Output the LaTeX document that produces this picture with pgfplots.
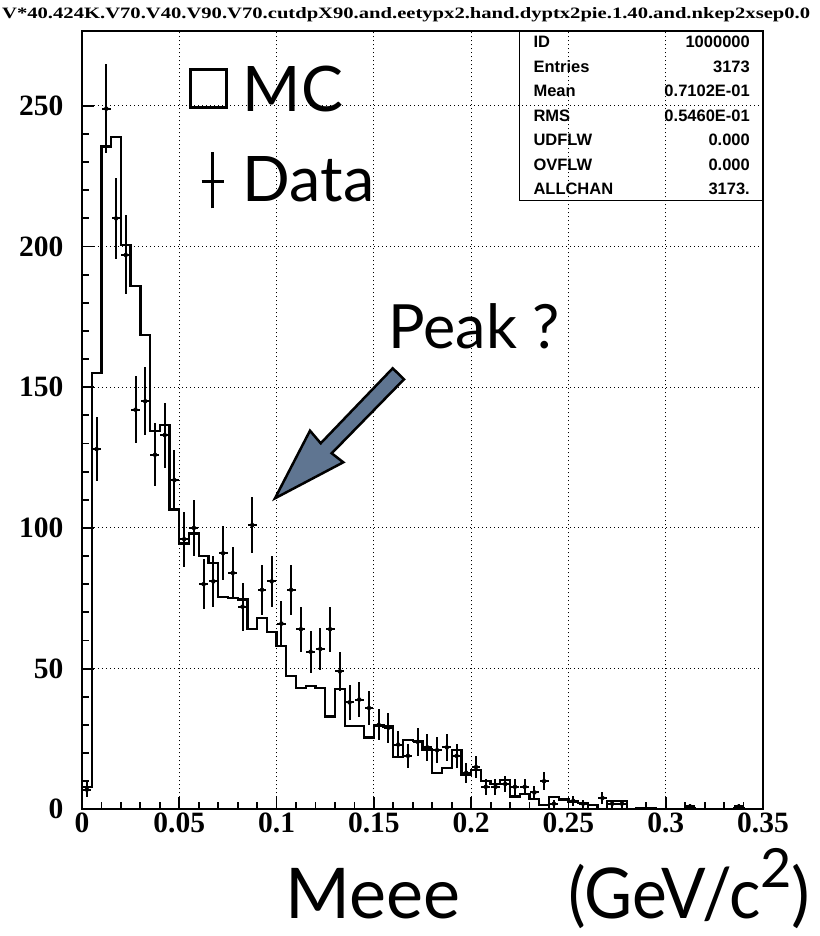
\documentclass[border=0pt]{standalone}
\usepackage{fontspec}
\setmainfont{Liberation Serif}
\newfontfamily\gill{Lato}
\newfontfamily\helv{Liberation Sans}
\usepackage{pgfplots}
\pgfplotsset{compat=1.18}
\usepackage{pgfplotstable}
\definecolor{arrowblue}{RGB}{95,117,145}

\pgfplotstableread{
x y ey
0.0025 7 2.65
0.0075 128 11.31
0.0125 249 15.78
0.0175 210 14.49
0.0225 197 14.04
0.0275 142 11.92
0.0325 145 12.04
0.0375 126 11.22
0.0425 133 11.53
0.0475 117 10.82
0.0525 96 9.80
0.0575 100 10.00
0.0625 80 8.94
0.0675 81 9.00
0.0725 91 9.54
0.0775 84 9.17
0.0825 72 8.49
0.0875 101 10.05
0.0925 78 8.83
0.0975 81 9.00
0.1025 66 8.12
0.1075 78 8.83
0.1125 64 8.00
0.1175 56 7.48
0.1225 57 7.55
0.1275 64 8.00
0.1325 49 7.00
0.1375 38 6.16
0.1425 39 6.24
0.1475 36 6.00
0.1525 30 5.48
0.1575 29 5.39
0.1625 23 4.80
0.1675 19 4.36
0.1725 24 4.90
0.1775 22 4.69
0.1825 21 4.58
0.1875 22 4.69
0.1925 19 4.36
0.1975 13 3.61
0.2025 15 3.87
0.2075 8 2.83
0.2125 8 2.83
0.2175 9 3.00
0.2225 8 2.83
0.2275 8 2.83
0.2325 6 2.45
0.2375 10 3.16
0.2425 2 1.41
0.2525 3 1.73
0.2575 2 1.41
0.2675 4 2.00
0.2725 2 1.41
0.2775 2 1.41
0.3125 1 1.00
0.3375 1 1.00
}\datatable

\pgfplotstableread{
x y
0.000 8
0.005 155
0.010 235.5
0.015 239
0.020 200.5
0.025 186
0.030 168.5
0.035 134.5
0.040 136.5
0.045 106.5
0.050 94.5
0.055 98
0.060 90
0.065 87.5
0.070 75.5
0.075 75.2
0.080 74.6
0.085 64
0.090 68
0.095 63
0.100 58
0.105 47.4
0.110 43.2
0.115 43.8
0.120 43.2
0.125 33
0.130 42.8
0.135 29.7
0.140 29.7
0.145 25.5
0.150 29.8
0.155 29.4
0.160 18.6
0.165 24.6
0.170 24.2
0.175 21.2
0.180 12.8
0.185 14.6
0.190 21
0.195 12.2
0.200 14
0.205 10
0.210 9
0.215 10.5
0.220 4.5
0.225 5.4
0.230 3.6
0.235 1.6
0.240 4.3
0.245 3.5
0.250 2.8
0.255 2.2
0.260 1.5
0.265 0
0.270 2.9
0.275 2.9
0.280 0
0.285 0.4
0.290 0.4
0.295 0
0.300 0
0.305 0
0.310 0.5
0.315 0
0.320 0
0.325 0
0.330 0
0.335 0.5
0.340 0
0.345 0
0.350 0
}\mctable

\begin{document}
\begin{tikzpicture}
\path[use as bounding box] (-82pt,-126.7pt) rectangle (737pt,809.3pt);
\begin{axis}[
  scale only axis, width=681pt, height=778.3pt,
  xmin=0, xmax=0.35, ymin=0, ymax=276.6,
  axis line style={line width=2pt},
  tick align=inside, xtick pos=left, ytick pos=left,
  major tick length=12pt, minor tick length=7pt,
  tick style={line width=1.8pt, black},
  minor x tick num=4, minor y tick num=4,
  xtick={0,0.05,0.1,0.15,0.2,0.25,0.3,0.35},
  xticklabels={0,0.05,0.1,0.15,0.2,0.25,0.3,0.35},
  scaled x ticks=false,
  ytick={0,50,100,150,200,250},
  grid=major,
  major grid style={line width=1pt, dash pattern=on 1pt off 3pt, black},
  ticklabel style={font=\fontsize{29.5}{30}\selectfont\bfseries},
  /pgf/number format/assume math mode=true,
  yticklabel style={xshift=-15pt},
]
\addplot[const plot mark left, line width=2.3pt, black, mark=none] table[x=x,y=y]{\mctable};
\addplot[only marks, mark=none, black,
  error bars/.cd, x dir=both, x fixed=0.0023, y dir=both, y explicit,
  error mark=none, error bar style={line width=2pt, black}]
  table[x=x, y=y, y error=ey]{\datatable};
\end{axis}
% title
\node[anchor=base west, inner sep=0] at (-80pt,790.3pt) {\resizebox{808pt}{11pt}{\bfseries V*40.424K.V70.V40.V90.V70.cutdpX90.and.eetypx2.hand.dyptx2pie.1.40.and.nkep2xsep0.0}};
% legend
\draw[line width=3pt] (108pt,702pt) rectangle (144.7pt,739.3pt);
\node[anchor=base west, inner sep=0] at (160.7pt,697.6pt) {\gill\fontsize{62.8}{64}\selectfont MC};
\draw[line width=3pt] (130.3pt,601pt) -- (130.3pt,657.6pt);
\draw[line width=3pt] (119.7pt,627.6pt) -- (142pt,627.6pt);
\node[anchor=base west, inner sep=0] at (160.7pt,607.6pt) {\gill\fontsize{62.8}{64}\selectfont Data};
% peak annotation
\node[anchor=base west, inner sep=0] at (306.3pt,461pt) {\gill\fontsize{61}{62}\selectfont Peak ?};
\draw[line width=2.5pt, fill=arrowblue, line join=miter]
  (193pt,311pt) -- (228pt,378.6pt) -- (238.7pt,366pt) -- (310.7pt,441pt)
  -- (322pt,430pt) -- (249.7pt,356pt) -- (261.3pt,347pt) -- cycle;
% stats box
\draw[line width=1.5pt] (437.3pt,608.6pt) rectangle (680.7pt,778.3pt);
\begin{scope}[every node/.style={inner sep=0, font=\helv\bfseries\fontsize{16.5}{17}\selectfont}]
\node[anchor=base west] at (451.3pt,761.7pt) {ID};
\node[anchor=base west] at (451.3pt,737.1pt) {Entries};
\node[anchor=base west] at (451.3pt,712.6pt) {Mean};
\node[anchor=base west] at (451.3pt,688pt) {RMS};
\node[anchor=base west] at (451.3pt,663.5pt) {UDFLW};
\node[anchor=base west] at (451.3pt,638.9pt) {OVFLW};
\node[anchor=base west] at (451.3pt,614.4pt) {ALLCHAN};
\node[anchor=base east] at (668pt,761.7pt) {1000000};
\node[anchor=base east] at (668pt,737.1pt) {3173};
\node[anchor=base east] at (668pt,712.6pt) {0.7102E-01};
\node[anchor=base east] at (668pt,688pt) {0.5460E-01};
\node[anchor=base east] at (668pt,663.5pt) {0.000};
\node[anchor=base east] at (668pt,638.9pt) {0.000};
\node[anchor=base east] at (668pt,614.4pt) {3173.};
\end{scope}
% x axis label
\node[anchor=base west, inner sep=0] at (203pt,-108.7pt) {\gill\fontsize{70}{72}\selectfont Meee};
\node[anchor=base west, inner sep=0] at (486pt,-108.7pt) {\gill\fontsize{70}{72}\selectfont \scalebox{0.94}[1]{(GeV/c}\raisebox{31pt}{\fontsize{54}{54}\selectfont 2})};
\end{tikzpicture}
\end{document}
